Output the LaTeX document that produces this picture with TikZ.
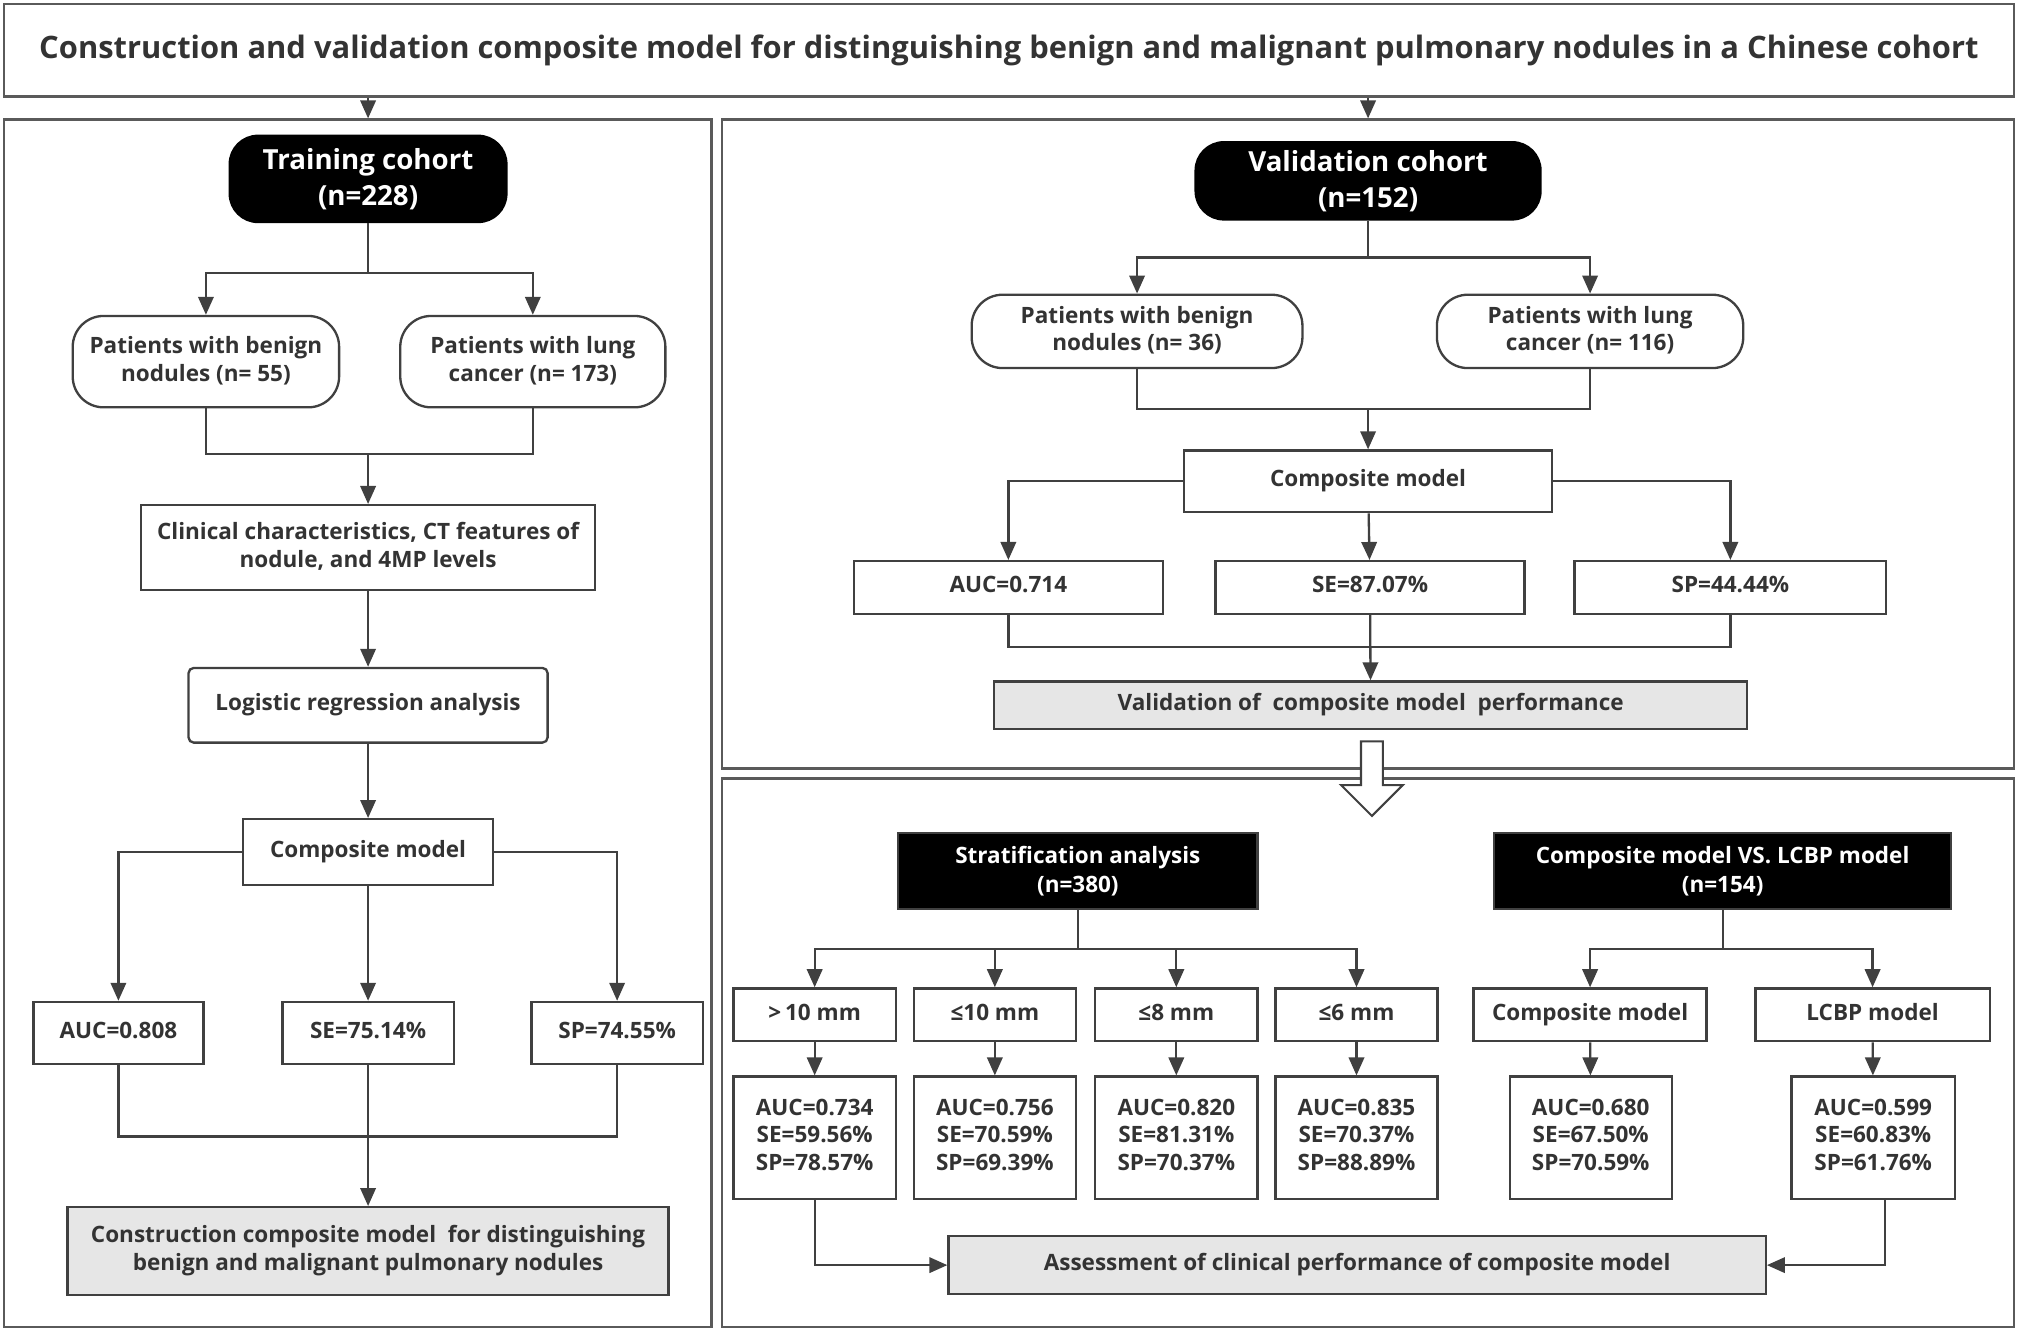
\documentclass[tikz,border=0pt]{standalone}
\usepackage{fontspec}
\setmainfont{Open Sans}
\usetikzlibrary{arrows.meta}
\definecolor{txt}{HTML}{333333}
\definecolor{ln}{HTML}{404040}
\definecolor{pnl}{HTML}{5A5A5A}
\definecolor{shade}{HTML}{E6E6E6}
\newcommand\bxstrut{\vrule width0pt height13pt depth4.5pt}
\begin{document}
\begin{tikzpicture}[x=1pt,y=-1pt,line width=1.8pt,draw=ln,text=txt,
    >={Triangle[width=12pt,length=14pt]},
    every node/.style={font=\bfseries\fontsize{17.5}{21.5}\selectfont,align=center,inner sep=0pt},
    box/.style={draw=ln,fill=white,minimum height=41pt,execute at begin node=\bxstrut},
    pill/.style={box,rounded corners=24pt,minimum height=57pt},
    cohort/.style={fill=black,draw=black,text=white,rounded corners=22pt,font=\bfseries\fontsize{21.5}{28}\selectfont},
    blk/.style={fill=black,draw=ln,text=white,minimum height=59pt,font=\bfseries\fontsize{17.5}{22}\selectfont},
    result/.style={box,minimum width=126pt,minimum height=95pt},
    goal/.style={box,fill=shade},
    panel/.style={draw=pnl,line width=2pt}]
    \useasboundingbox (0,0) rectangle (1568,1035);

    % title and the three panels
    \node[draw=pnl,line width=2pt,minimum width=1562pt,minimum height=72pt,font=\bfseries\fontsize{24}{28}\selectfont] at (784,39) (t) {Construction and validation composite model for distinguishing benign and malignant pulmonary nodules in a Chinese cohort};
    \node[panel,minimum width=550pt,minimum height=938pt] at (278,562) (pl) {};
    \node[panel,minimum width=1004pt,minimum height=504pt] at (1063,345) (pt) {};
    \node[panel,minimum width=1004pt,minimum height=426pt] at (1063,818) (pb) {};

    % training cohort
    \node[cohort,minimum width=215pt,minimum height=67pt] at (286,139) (tc) {Training cohort\\(n=228)};
    \node[pill,minimum width=207pt,minimum height=71pt] at (160,281) (tb) {Patients with benign\\nodules (n= 55)};
    \node[pill,minimum width=206pt,minimum height=71pt] at (414,281) (tl) {Patients with lung\\cancer (n= 173)};
    \node[box,minimum width=353pt,minimum height=66pt] at (286,425.5) (tf) {Clinical characteristics, CT features of\\nodule, and 4MP levels};
    \node[box,rounded corners=4pt,minimum width=279pt,minimum height=58pt] at (286,548) (tr) {Logistic regression analysis};
    \node[box,minimum width=194pt,minimum height=51pt] at (286,662) (tm) {Composite model};
    \node[box,minimum width=132pt,minimum height=48pt] at (92,802.5) (ta) {AUC=0.808};
    \node[box,minimum width=133pt,minimum height=48pt] at (286,802.5) (ts) {SE=75.14\%};
    \node[box,minimum width=133pt,minimum height=48pt] at (479.5,802.5) (tp) {SP=74.55\%};
    \node[goal,minimum width=467pt,minimum height=68pt] at (286,972) (tg) {Construction composite model\ \ for distinguishing\\benign and malignant pulmonary nodules};

    \coordinate (t1) at (286,212);
    \coordinate (t2) at (286,353);
    \coordinate (t3) at (286,883);
    \draw[->] (t.south -| tc) -- (pl.north -| tc);
    \draw (tc) -- (t1);
    \draw[->] (t1) -| (tb);
    \draw[->] (t1) -| (tl);
    \draw (tb) |- (t2) -| (tl);
    \draw[->] (t2) -- (tf);
    \draw[->] (tf) -- (tr);
    \draw[->] (tr) -- (tm);
    \draw[->] (tm) -| (ta);
    \draw[->] (tm) -- (ts);
    \draw[->] (tm) -| (tp);
    \draw (ta) |- (t3) -| (tp);
    \draw[->] (ts) -- (tg);

    % validation cohort
    \node[cohort,minimum width=268pt,minimum height=60pt] at (1063,140.5) (vc) {Validation cohort\\(n=152)};
    \node[pill,minimum width=257pt] at (883.5,257.5) (vb) {Patients with benign\\nodules (n= 36)};
    \node[pill,minimum width=238pt] at (1235.5,257.5) (vl) {Patients with lung\\cancer (n= 116)};
    \node[box,minimum width=286pt,minimum height=48pt] at (1063,374) (vm) {Composite model};
    \node[box,minimum width=240pt] at (783.5,456.5) (va) {AUC=0.714};
    \node[box,minimum width=240pt] at (1064.5,456.5) (vs) {SE=87.07\%};
    \node[box,minimum width=242pt] at (1344.5,456.5) (vp) {SP=44.44\%};
    \node[goal,minimum width=585pt,minimum height=37pt] at (1065,548) (vg) {Validation of\ \ composite model\ \ performance};

    \coordinate (v1) at (1063,200);
    \coordinate (v2) at (1063,318);
    \coordinate (v3) at (1064.5,502.5);
    \draw[->] (t.south -| vc) -- (pt.north -| vc);
    \draw (vc) -- (v1);
    \draw[->] (v1) -| (vb);
    \draw[->] (v1) -| (vl);
    \draw (vb) |- (v2) -| (vl);
    \draw[->] (v2) -- (vm);
    \draw[->] (vm) -| (va);
    \draw[->] (vm) -- (vs);
    \draw[->] (vm) -| (vp);
    \draw (va) |- (v3) -| (vp);
    \draw[->] (vs) -- (vg);

    % hollow arrow between the right panels
    \draw[fill=white,line width=1.6pt] (1057.5,576) -- (1057.5,610) -- (1042,610) -- (1066,634)
        -- (1090,610) -- (1074.5,610) -- (1074.5,576) -- cycle;

    % stratification and comparison
    \node[blk,minimum width=279pt] at (837.5,677) (sa) {Stratification analysis\\(n=380)};
    \node[blk,minimum width=355pt] at (1338.5,677) (cv) {Composite model VS. LCBP model\\(n=154)};
    \node[box,minimum width=126pt] at (633,788.5) (s1) {>\,10 mm};
    \node[box,minimum width=126pt] at (773,788.5) (s2) {≤10 mm};
    \node[box,minimum width=126pt] at (914,788.5) (s3) {≤8 mm};
    \node[box,minimum width=126pt] at (1054,788.5) (s4) {≤6 mm};
    \node[result] at (633,884) (r1) {AUC=0.734\\SE=59.56\%\\SP=78.57\%};
    \node[result] at (773,884) (r2) {AUC=0.756\\SE=70.59\%\\SP=69.39\%};
    \node[result] at (914,884) (r3) {AUC=0.820\\SE=81.31\%\\SP=70.37\%};
    \node[result] at (1054,884) (r4) {AUC=0.835\\SE=70.37\%\\SP=88.89\%};
    \node[box,minimum width=181pt] at (1235.5,788.5) (c1) {Composite model};
    \node[box,minimum width=182pt] at (1455,788.5) (c2) {LCBP model};
    \node[result] at (1236,884) (q1) {AUC=0.680\\SE=67.50\%\\SP=70.59\%};
    \node[result,minimum width=127pt] at (1455.5,884) (q2) {AUC=0.599\\SE=60.83\%\\SP=61.76\%};
    \node[goal,minimum width=635pt,minimum height=45pt] at (1054.5,983) (ag) {Assessment of clinical performance of composite model};

    \coordinate (s0) at (837.5,737.5);
    \coordinate (c0) at (1338.5,737.5);
    \draw (sa) -- (s0);
    \foreach \b in {s1,s2,s3,s4} \draw[->] (s0) -| (\b);
    \draw (cv) -- (c0);
    \draw[->] (c0) -| (c1);
    \draw[->] (c0) -| (c2);
    \draw[->] (s1) -- (r1);
    \draw[->] (s2) -- (r2);
    \draw[->] (s3) -- (r3);
    \draw[->] (s4) -- (r4);
    \draw[->] (c1) -- (q1);
    \draw[->] (c2) -- (q2);
    \draw[->] (r1) |- (ag);
    \draw[->] ([xshift=9pt]q2.south) |- (ag);
\end{tikzpicture}
\end{document}
